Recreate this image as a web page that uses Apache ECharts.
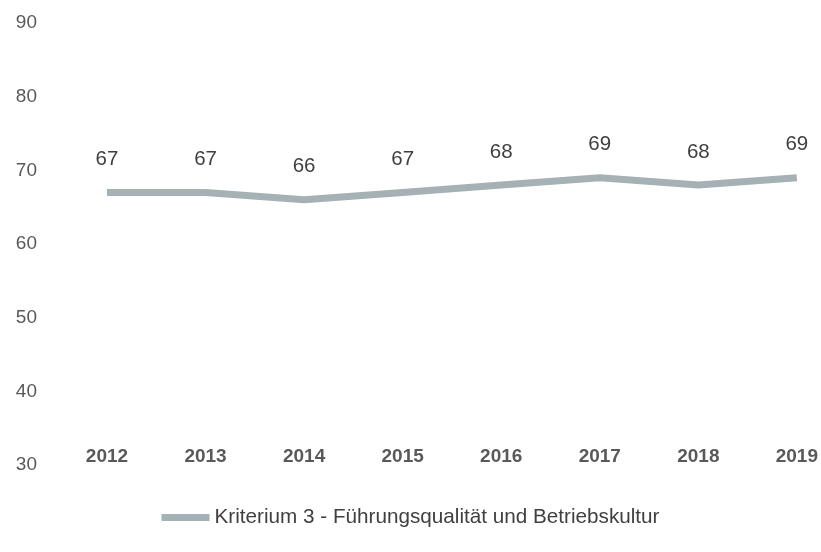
<!DOCTYPE html>
<html><head><meta charset="utf-8">
<script src="https://cdn.jsdelivr.net/npm/echarts@6/dist/echarts.min.js"></script>
<style>html,body{margin:0;padding:0;background:#fff}#c{width:821px;height:552px}</style>
</head><body><div id="c"></div>
<script>
const years = ['2012','2013','2014','2015','2016','2017','2018','2019'];
const values = [67, 67, 66, 67, 68, 69, 68, 69];
const seriesName = 'Kriterium 3 - Führungsqualität und Betriebskultur';
const yMin = 30, yMax = 90, yStep = 10;

const chart = echarts.init(document.getElementById('c'));
chart.setOption({
  animation: false,
  textStyle: {fontFamily: 'Liberation Sans, Arial, sans-serif'},
  grid: {left: 107, right: 22, top: 23, bottom: 87},
  legend: {
    bottom: 19, left: 'center',
    itemWidth: 48, itemHeight: 7, itemGap: 5,
    icon: 'rect',
    itemStyle: {color: '#a5b1b5', opacity: 1},
    textStyle: {fontSize: 20.7, color: '#404040', fontFamily: 'Liberation Sans, Arial, sans-serif'},
    data: [seriesName]
  },
  xAxis: {
    type: 'category', data: years, boundaryGap: false,
    axisLine: {show: false}, axisTick: {show: false},
    axisLabel: {margin: -18, fontSize: 19, fontWeight: 'bold', color: '#595959'}
  },
  yAxis: {
    type: 'value', min: yMin, max: yMax, interval: yStep,
    splitLine: {show: false}, axisLine: {show: false}, axisTick: {show: false},
    axisLabel: {margin: 70, fontSize: 19, color: '#595959'}
  },
  series: [{
    name: seriesName, type: 'line', data: values,
    symbol: 'circle', symbolSize: 1, showSymbol: true,
    lineStyle: {width: 7, color: '#a5b1b5'},
    itemStyle: {color: 'rgba(0,0,0,0)'},
    label: {show: true, position: 'top', distance: 22, fontSize: 20.5, color: '#404040'},
    emphasis: {disabled: true}
  }]
});
</script></body></html>
